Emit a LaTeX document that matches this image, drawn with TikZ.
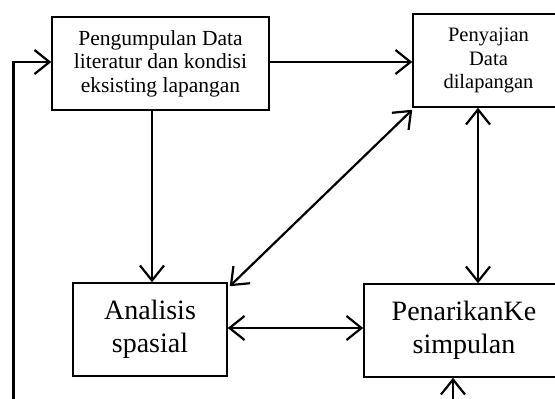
\documentclass[tikz,border=0pt]{standalone}
\usepackage{fontspec}
\setmainfont{Liberation Serif}
\usepackage{tikz}
\usetikzlibrary{arrows.meta, positioning}

\begin{document}
\begin{tikzpicture}[
    x=1pt, y=-1pt,
    box/.style={draw, line width=1.5pt, minimum height=93pt, align=center,
                inner sep=0pt, font=\fontsize{20.5}{23.5}\selectfont},
    bigbox/.style={box, font=\fontsize{28}{33}\selectfont},
    link/.style={line width=2.2pt},
    >={Straight Barb[length=15pt, width=24pt, line width=2.2pt]}
  ]
    \useasboundingbox (0,0) rectangle (555,399);
    \clip (0,0) rectangle (555,399);

    \node[box, minimum width=217pt, font=\fontsize{21.5}{23.5}\selectfont]
      (collect) at (160.5,63.5)
      {Pengumpulan Data\\literatur dan kondisi\\eksisting lapangan};
    \node[box, minimum width=151pt] (present) at (488.5,60.5)
      {Penyajian\\Data\\dilapangan};
    \node[bigbox, minimum width=154pt] (analysis) at (150,329.5)
      {Analisis\\spasial};
    \node[bigbox, minimum width=200pt] (conclude) at (464,330.5)
      {PenarikanKe\\simpulan};

    \coordinate (loopin) at (13.5,405);
    \coordinate (bottomin) at (453,405);

    \draw[link, ->] (collect.east |- 0,62) -- (present.west |- 0,62);
    \draw[link, ->] ([xshift=2pt]analysis.north |- collect.south)
      -- ([xshift=2pt]analysis.north);
    \draw[link, <->] ([shift={(2pt,-4pt)}]analysis.north east)
      -- ([yshift=-2pt]present.south west);
    \draw[link, <->] ([xshift=-10.5pt]present.south)
      -- ([xshift=-10.5pt]present.south |- conclude.north);
    \draw[link, <->] (analysis.east |- 0,328) -- (conclude.west |- 0,328);
    \draw[link, ->] (loopin) |- (collect.west |- 0,62);
    \draw[link, ->] (bottomin) -- (bottomin |- conclude.south);
  \end{tikzpicture}
\end{document}
